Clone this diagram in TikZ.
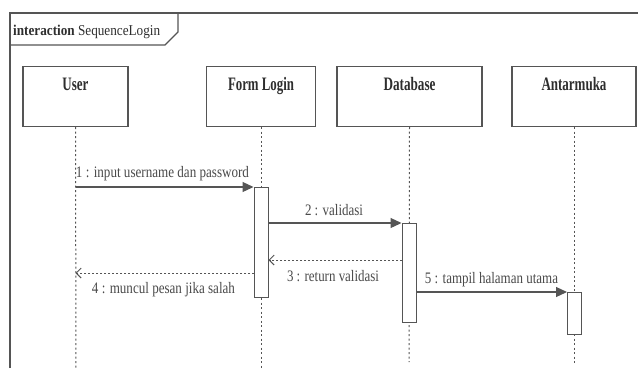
\documentclass[tikz,border=0pt]{standalone}
\usepackage{fontspec}
\usepackage{graphicx}
\setmainfont{Liberation Serif}
\usetikzlibrary{arrows.meta}
\definecolor{ln}{HTML}{555555}
\definecolor{tx}{HTML}{2E2E2E}
\definecolor{mtx}{HTML}{4A4A4A}
\newcommand\fitw[2]{\resizebox{#1}{\height}{#2}}
\tikzset{
  lifebox/.style={draw=ln, line width=1.1pt, fill=white, minimum height=60pt, inner sep=0pt, font=\bfseries\fontsize{19}{19}\selectfont, text=tx, anchor=north, text height=13pt, text depth=25pt},
  actbar/.style={draw=ln, line width=1pt, fill=white, minimum width=14pt, inner sep=0pt, anchor=north},
  lifeline/.style={draw=ln, line width=1pt, dash pattern=on 2pt off 2.5pt},
  syncmsg/.style={draw=ln, line width=1.2pt, -{Triangle[length=11pt,width=10pt]}},
  retmsg/.style={draw=ln, line width=1pt, dash pattern=on 2pt off 2pt, -{Straight Barb[length=5pt,width=10pt,line width=1pt]}},
  msglabel/.style={font=\fontsize{16}{16}\selectfont, text=mtx, inner sep=0pt, anchor=base},
}
\begin{document}
\begin{tikzpicture}[x=1pt,y=-1pt]
\useasboundingbox (0,0) rectangle (638,368);
\fill[white] (0,0) rectangle (638,368);
% frame
\draw[ln, line width=1.2pt] (10,368) -- (10,13) -- (638,13);
\draw[ln, line width=1.2pt] (10,45) -- (165,45) -- (178,32) -- (178,13);
\node[anchor=base west, inner sep=0pt, text=tx, font=\fontsize{15}{15}\selectfont] (title) at (13,35) {\fitw{147pt}{\textbf{interaction} SequenceLogin}};
% lifeline heads
\node[lifebox, minimum width=105pt] (user) at (75.5,66) {\fitw{26pt}{User}};
\node[lifebox, minimum width=109pt] (form) at (261,66) {\fitw{66pt}{Form Login}};
\node[lifebox, minimum width=145pt] (db) at (409.5,66) {\fitw{52pt}{Database}};
\node[lifebox, minimum width=124pt] (ui) at (574,66) {\fitw{65pt}{Antarmuka}};
% lifelines
\coordinate (userend) at (76,368);
\coordinate (formend) at (261,368);
\coordinate (dbend) at (409,362);
\coordinate (uiend) at (574,364);
\draw[lifeline] (user.south) -- (userend);
\draw[lifeline] (form.south) -- (formend);
\draw[lifeline] (db.south) -- (dbend);
\draw[lifeline] (ui.south) -- (uiend);
% activation bars
\node[actbar, minimum height=110pt] (fact) at (261,187) {};
\node[actbar, minimum height=99pt] (dact) at (409,223) {};
\node[actbar, minimum height=42pt] (uact) at (574.5,292) {};
% messages
\draw[syncmsg] (user.south |- fact.north) -- (fact.north west);
\node[msglabel] (m1) at (162.5,177.5) {\fitw{173pt}{1 : input username dan password}};
\draw[syncmsg] (fact.east |- dact.north) -- (dact.north west);
\node[msglabel] (m2) at (334,215) {\fitw{58pt}{2 : validasi}};
\coordinate (r3) at (402,260);
\draw[retmsg] (r3) -- (fact.east |- r3);
\node[msglabel] (m3) at (333,281) {\fitw{92pt}{3 : return validasi}};
\coordinate (r4) at (254,273);
\draw[retmsg] (r4) -- (user.south |- r4);
\node[msglabel] (m4) at (163.5,293) {\fitw{143pt}{4 : muncul pesan jika salah}};
\draw[syncmsg] (dact.east |- uact.north) -- (uact.north west);
\node[msglabel] (m5) at (491.5,283) {\fitw{133pt}{5 : tampil halaman utama}};
\end{tikzpicture}
\end{document}
